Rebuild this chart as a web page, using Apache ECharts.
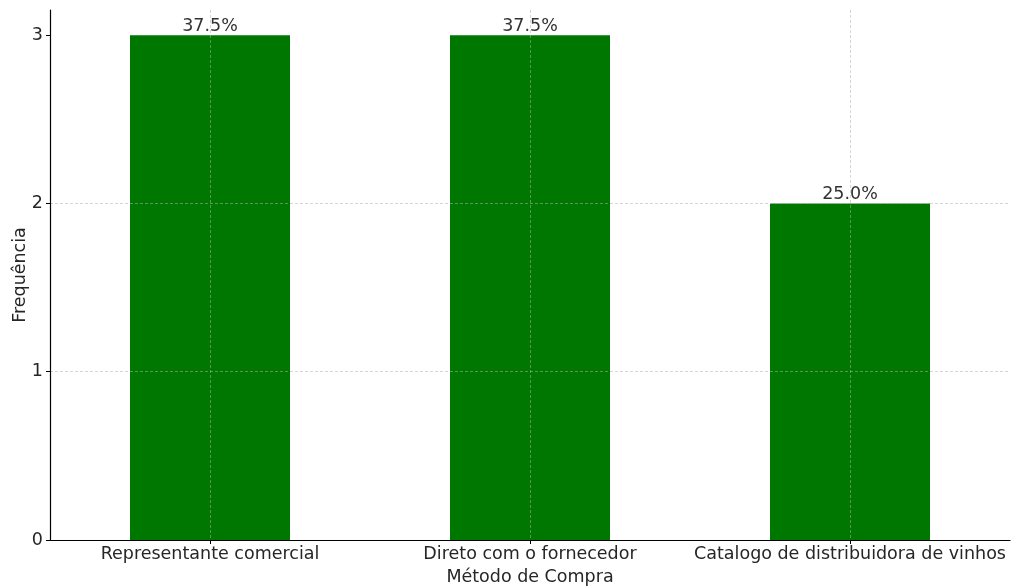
<!DOCTYPE html>
<html>
<head>
<meta charset="utf-8">
<script src="https://cdn.jsdelivr.net/npm/echarts@6/dist/echarts.min.js"></script>
<style>
  html, body { margin: 0; padding: 0; background: #ffffff; }
  #chart { width: 1011px; height: 587px; }
</style>
</head>
<body>
<div id="chart"></div>
<script>
// Purchase methods and how often each one was reported
const categories = ['Representante comercial', 'Direto com o fornecedor', 'Catalogo de distribuidora de vinhos'];
const frequencies = [3, 3, 2];
const percentLabels = ['37.5%', '37.5%', '25.0%'];
const yTicks = [0, 1, 2, 3];

const FONT = 'DejaVu Sans';
const chart = echarts.init(document.getElementById('chart'), null, { renderer: 'canvas' });

// dashed, semi-transparent grid drawn above the bars
const gridLine = { show: true, lineStyle: { color: 'rgba(176,176,176,0.65)', width: 0.8, type: [3, 2] } };

chart.setOption({
  animation: false,
  backgroundColor: '#ffffff',
  textStyle: { fontFamily: FONT },
  grid: { left: 50, right: 1, top: 10, bottom: 47, containLabel: false, outerBoundsMode: 'none' },
  xAxis: {
    type: 'category',
    data: categories,
    boundaryGap: true,
    z: 5,
    name: 'Método de Compra',
    nameLocation: 'middle',
    nameGap: 28,
    nameTextStyle: { fontFamily: FONT, fontSize: 17.5, color: '#262626' },
    axisLine: { show: true, lineStyle: { color: '#000000', width: 1.2 } },
    axisTick: { show: true, alignWithLabel: true, length: 4, lineStyle: { color: '#000000', width: 1 } },
    axisLabel: { fontFamily: FONT, fontSize: 17.5, color: '#262626', margin: 5, interval: 0 },
    splitLine: Object.assign({ alignWithLabel: true }, gridLine)
  },
  yAxis: {
    type: 'value',
    min: 0,
    max: 3.15,
    interval: 1,
    z: 5,
    name: 'Frequência',
    nameLocation: 'middle',
    nameGap: 21,
    nameMoveOverlap: false,
    nameRotate: 90,
    nameTextStyle: { fontFamily: FONT, fontSize: 17.5, color: '#262626' },
    axisLine: { show: true, lineStyle: { color: '#000000', width: 1.2 } },
    axisTick: { show: true, length: 4, customValues: yTicks, lineStyle: { color: '#000000', width: 1 } },
    axisLabel: { fontFamily: FONT, fontSize: 17.5, color: '#262626', margin: 7, customValues: yTicks },
    splitLine: Object.assign({ showMaxLine: false, showMinLine: false }, gridLine)
  },
  series: [{
    type: 'bar',
    data: frequencies,
    barWidth: '50%',
    itemStyle: { color: '#007700' },
    label: {
      show: true,
      position: 'top',
      distance: 0,
      fontFamily: FONT,
      fontSize: 17.5,
      color: '#333333',
      formatter: p => percentLabels[p.dataIndex]
    }
  }]
});
</script>
</body>
</html>
